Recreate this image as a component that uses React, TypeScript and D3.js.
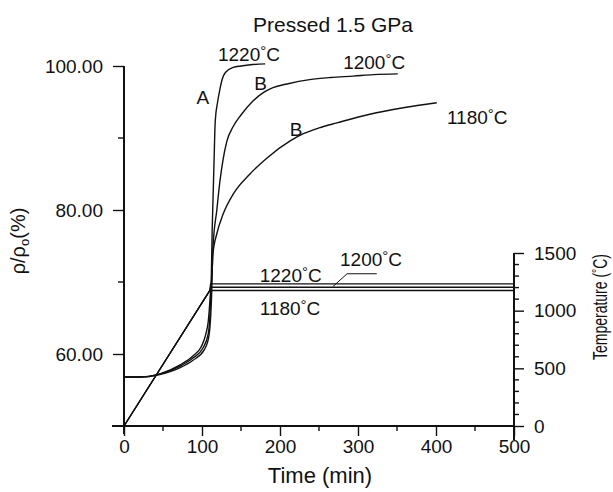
import { useEffect, useRef } from "react"
import * as d3 from "d3"

const W = 613
const H = 492

// relative density curves: time (min) -> rho/rho0 (%)
const t1220 = [0, 20, 46, 72, 88, 99, 105, 108, 110.5, 112, 113, 114, 115.5, 117, 120, 123, 126, 130, 140, 150, 165, 181]
const rho1220 = [56.8, 56.8, 57.25, 58.5, 59.7, 61.0, 62.8, 64.5, 68.0, 71.0, 77.0, 81.0, 87.0, 92.4, 95.0, 96.8, 98.2, 99.1, 99.8, 100.0, 100.2, 100.3]

const t1200 = [0, 20, 46, 72, 88, 101, 108, 110, 111.5, 113, 114, 119, 123, 127, 132, 140, 150, 165, 180, 191, 209, 238, 265, 294, 320, 351]
const rho1200 = [56.8, 56.8, 57.2, 58.3, 59.4, 60.8, 62.8, 65.0, 68.75, 71.5, 74.7, 80.0, 84.0, 87.0, 89.6, 91.6, 93.2, 95.1, 96.4, 97.0, 97.5, 98.1, 98.4, 98.6, 98.8, 98.9]

const t1180 = [0, 20, 46, 72, 88, 103, 109, 111, 112.5, 113, 114, 119, 127, 140, 161.5, 183, 213, 230, 250, 273, 315, 358, 401]
const rho1180 = [56.8, 56.8, 57.15, 58.1, 59.1, 60.6, 62.6, 65.0, 68.75, 71.1, 73.9, 76.7, 79.4, 82.2, 85.0, 87.2, 89.6, 90.6, 91.4, 92.1, 93.3, 94.2, 94.9]

// temperature programme: time (min) -> temperature (C)
const tempTime = [0, 110, 111, 500]
const temp1220 = [0, 1175, 1232, 1232]
const temp1200 = [0, 1175, 1203, 1203]
const temp1180 = [0, 1175, 1175, 1175]

const xTicks = [0, 100, 200, 300, 400, 500]
const xMinor = [50, 150, 250, 350, 450]
const yTicks = [60, 80, 100]
const yMinor = [70, 90]
const tTicks = [0, 500, 1000, 1500]
const tMinor = [100, 200, 300, 400, 600, 700, 800, 900, 1100, 1200, 1300, 1400]

const FONT = "'Liberation Sans', Arial, Helvetica, sans-serif"
const INK = "#111"

export default function App() {
  const ref = useRef<SVGSVGElement>(null)

  useEffect(() => {
    const svg = d3.select(ref.current)
    svg.selectAll("*").remove()

    const x = d3.scaleLinear().domain([0, 500]).range([124, 514])
    const y = d3.scaleLinear().domain([50, 100]).range([426, 66])
    const yT = d3.scaleLinear().domain([0, 1500]).range([426, 253])

    const styleAxis = (g: any) => {
      g.attr("font-family", FONT).attr("font-size", 19)
      g.select(".domain").remove()
      g.selectAll(".tick line").attr("stroke", INK).attr("stroke-width", 1.4)
      g.selectAll(".tick text").attr("fill", INK)
    }

    // left axis
    const gL = svg.append("g").attr("transform", `translate(${x(0)},0)`)
    gL.call(d3.axisLeft(y).tickValues(yTicks).tickSize(11).tickPadding(10).tickFormat((d: any) => d3.format(".2f")(d)))
    styleAxis(gL)
    gL.append("g").selectAll("line").data(yMinor).join("line")
      .attr("x1", -6).attr("x2", 0).attr("y1", (d) => y(d)).attr("y2", (d) => y(d))
      .attr("stroke", INK).attr("stroke-width", 1.4)
    gL.append("line").attr("y1", y(100)).attr("y2", y(50) + 8)
      .attr("stroke", INK).attr("stroke-width", 2)

    // bottom axis
    const gB = svg.append("g").attr("transform", `translate(0,${y(50)})`)
    gB.call(d3.axisBottom(x).tickValues(xTicks).tickSize(10).tickFormat((d: any) => String(d)))
    styleAxis(gB)
    gB.selectAll(".tick text").attr("dy", null).attr("y", 27)
    gB.append("g").selectAll("line").data(xMinor).join("line")
      .attr("x1", (d) => x(d)).attr("x2", (d) => x(d)).attr("y1", 0).attr("y2", 5)
      .attr("stroke", INK).attr("stroke-width", 1.4)
    gB.append("line").attr("x1", x(0) - 12).attr("x2", x(500))
      .attr("stroke", INK).attr("stroke-width", 2)

    // right (temperature) axis
    const gR = svg.append("g").attr("transform", `translate(${x(500)},0)`)
    gR.call(d3.axisRight(yT).tickValues(tTicks).tickSize(10).tickPadding(10).tickFormat((d: any) => String(d)))
    styleAxis(gR)
    gR.append("g").selectAll("line").data(tMinor).join("line")
      .attr("x1", 0).attr("x2", 5).attr("y1", (d) => yT(d)).attr("y2", (d) => yT(d))
      .attr("stroke", INK).attr("stroke-width", 1.4)
    gR.append("line").attr("y1", yT(1500)).attr("y2", yT(0) + 14)
      .attr("stroke", INK).attr("stroke-width", 2)

    // temperature lines
    const tLine = d3.line<number>().x((_, i) => x(tempTime[i])).y((d) => yT(d))
    ;[temp1220, temp1200, temp1180].forEach((s) => {
      svg.append("path").attr("d", tLine(s)).attr("fill", "none")
        .attr("stroke", INK).attr("stroke-width", 1.3)
    })

    // density curves
    const curves: [number[], number[]][] = [[t1220, rho1220], [t1200, rho1200], [t1180, rho1180]]
    curves.forEach(([ts, vs]) => {
      const line = d3.line<number>().x((_, i) => x(ts[i])).y((d) => y(d)).curve(d3.curveMonotoneX)
      svg.append("path").attr("d", line(vs)).attr("fill", "none")
        .attr("stroke", INK).attr("stroke-width", 1.4)
    })

    // labels
    const degLabel = (tx: number, ty: number, value: string) => {
      const t = svg.append("text").attr("x", tx).attr("y", ty)
        .attr("font-family", FONT).attr("font-size", 19).attr("fill", INK)
      t.append("tspan").text(value)
      t.append("tspan").attr("dy", -5).attr("font-size", 15).text("°")
      t.append("tspan").attr("dy", 5).text("C")
    }
    degLabel(x(120.5), y(100.7), "1220")
    degLabel(x(281), y(99.6), "1200")
    degLabel(x(414), y(91.9), "1180")
    degLabel(x(174), yT(1250), "1220")
    degLabel(x(277), yT(1390), "1200")
    degLabel(x(174), yT(960), "1180")

    const letter = (tx: number, ty: number, s: string) => {
      svg.append("text").attr("x", tx).attr("y", ty).attr("text-anchor", "middle")
        .attr("font-family", FONT).attr("font-size", 19).attr("fill", INK).text(s)
    }
    letter(x(101), y(94.7), "A")
    letter(x(175), y(96.6), "B")
    letter(x(220.5), y(90.3), "B")

    // leader for the 1200 C temperature line
    svg.append("path")
      .attr("d", d3.line()([[x(268), yT(1210)], [x(286), yT(1320)], [x(324), yT(1320)]]))
      .attr("fill", "none").attr("stroke", INK).attr("stroke-width", 1)

    // titles
    svg.append("text").attr("x", 333).attr("y", 32).attr("text-anchor", "middle")
      .attr("font-family", FONT).attr("font-size", 21).attr("fill", INK).text("Pressed 1.5 GPa")
    svg.append("text").attr("x", 320).attr("y", 483).attr("text-anchor", "middle")
      .attr("font-family", FONT).attr("font-size", 22).attr("fill", INK).text("Time (min)")

    const yl = svg.append("text").attr("transform", "translate(25,241) rotate(-90)")
      .attr("text-anchor", "middle").attr("font-family", FONT).attr("font-size", 20).attr("fill", INK)
    yl.append("tspan").text("ρ/ρ")
    yl.append("tspan").attr("dy", 4).attr("font-size", 13).text("o")
    yl.append("tspan").attr("dy", -4).text("(%)")

    const rl = svg.append("text").attr("transform", "translate(607,307) rotate(-90)")
      .attr("text-anchor", "middle").attr("font-family", FONT).attr("font-size", 20).attr("fill", INK)
      .attr("textLength", 106).attr("lengthAdjust", "spacingAndGlyphs")
    rl.append("tspan").text("Temperature (")
    rl.append("tspan").attr("dy", -5).attr("font-size", 15).text("°")
    rl.append("tspan").attr("dy", 5).text("C)")
  }, [])

  return (
    <svg ref={ref} width={W} height={H} style={{ position: "absolute", left: 0, top: 0, background: "#fff" }} />
  )
}
